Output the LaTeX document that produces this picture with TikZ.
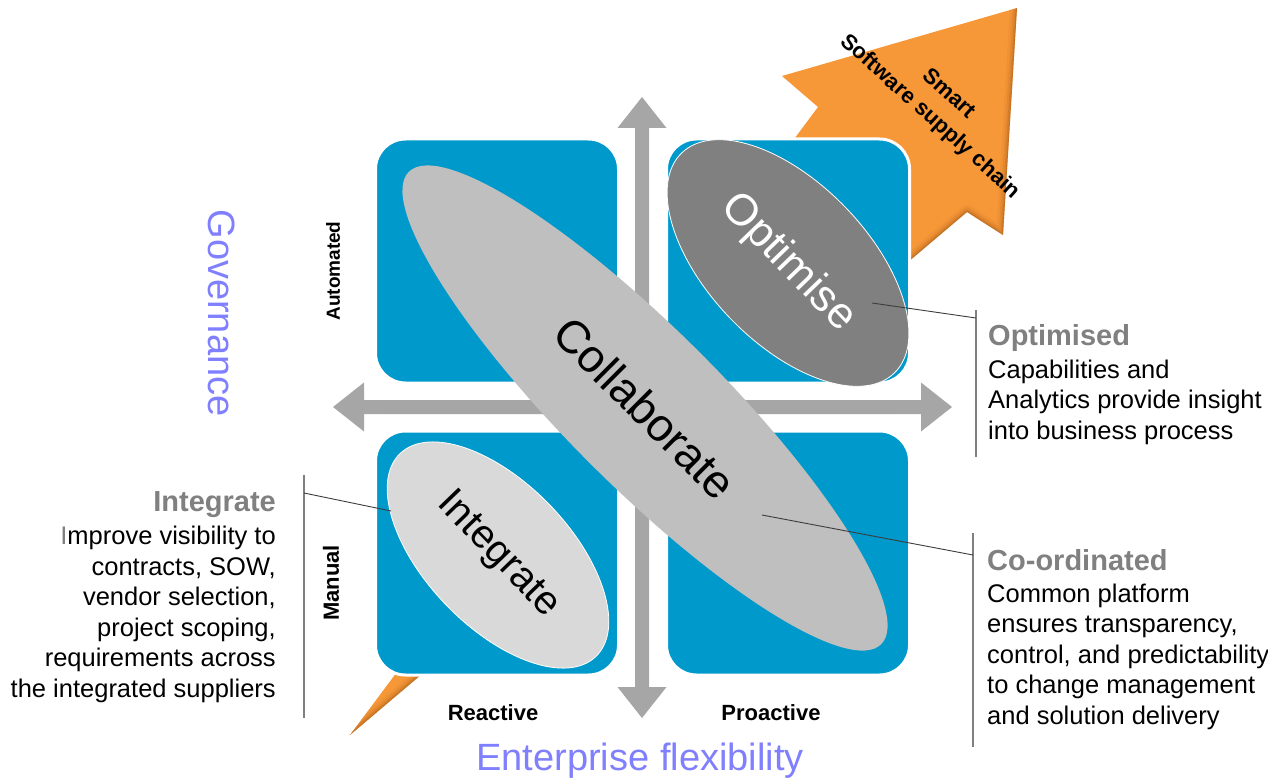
\documentclass[tikz,border=0pt]{standalone}
\usepackage{fontspec}
\setmainfont{Liberation Sans}
\usetikzlibrary{shapes.geometric}

\definecolor{quadblue}{RGB}{0,153,204}
\definecolor{axisgray}{RGB}{166,166,166}
\definecolor{collabgray}{RGB}{191,191,191}
\definecolor{optgray}{RGB}{128,128,128}
\definecolor{intgray}{RGB}{217,217,217}
\definecolor{headgray}{RGB}{128,128,128}
\definecolor{axislabel}{RGB}{128,128,255}
\definecolor{arroworange}{RGB}{247,152,56}
\definecolor{arrowdark}{RGB}{150,80,20}
\definecolor{leadergray}{RGB}{60,60,60}

\newcommand\fsz[2]{\fontsize{#1}{#2}\selectfont}

\tikzset{
  quad/.style={fill=quadblue, draw=white, line width=3pt, rounded corners=30pt,
    minimum width=243pt, minimum height=244pt, inner sep=0pt},
  blob/.style={ellipse, inner sep=0pt},
  axislab/.style={text=axislabel, font=\fsz{38}{38}, inner sep=0pt},
  dimlab/.style={font=\bfseries\fsz{22}{22}, inner sep=0pt},
  headtxt/.style={text=headgray, font=\bfseries\fsz{29}{29}, inner sep=0pt},
  bodytxt/.style={font=\fsz{25.5}{30.5}, inner sep=0pt},
  leader/.style={draw=leadergray, line width=0.9pt},
  bar/.style={draw=headgray, line width=1.4pt},
  arrowtxt/.style={font=\bfseries\fsz{22}{24}, inner sep=0pt, rotate=-42}
}

\begin{document}
\begin{tikzpicture}[x=1pt, y=-1pt]
\useasboundingbox (0,0) rectangle (1268,778);

% orange arrow towards the top right, its shaft tapering to the lower left
\coordinate (oTail) at (350,735);
\coordinate (oNotchL) at (818,107);
\coordinate (oWingL) at (782,76);
\coordinate (oTip) at (1017,8);
\coordinate (oWingR) at (1003,235);
\coordinate (oNotchR) at (967,212);
\fill[arroworange] (oTail) -- (oNotchL) -- (oWingL) -- (oTip) -- (oWingR) -- (oNotchR) -- cycle;
\begin{scope}
  \clip (oTail) -- (oNotchL) -- (oWingL) -- (oTip) -- (oWingR) -- (oNotchR) -- cycle;
  \foreach \w/\o in {14/0.08, 9/0.12, 5/0.18, 2/0.25}
    \draw[arrowdark, line width=\w pt, opacity=\o, line join=round]
      (oTip) -- (oWingR) -- (oNotchR) -- (oTail);
\end{scope}

% white ground under the four quadrants
\fill[white] (390,155) rectangle (895,657);

% quadrants
\node[quad] (qTL) at (497,261) {};
\node[quad] (qTR) at (788,261) {};
\node[quad] (qBL) at (497,553) {};
\node[quad] (qBR) at (788,553) {};

% axes with arrow heads at both ends
\fill[axisgray] (642,97) -- (666.5,128) -- (649,128) -- (649,687) -- (666.5,687)
  -- (642,718) -- (617.5,687) -- (635,687) -- (635,128) -- (617.5,128) -- cycle;
\fill[axisgray] (333,407) -- (364,382.5) -- (364,400) -- (921,400) -- (921,382.5)
  -- (952,407) -- (921,431.5) -- (921,414) -- (364,414) -- (364,431.5) -- cycle;

% maturity ellipses
\node[blob, fill=collabgray, minimum width=668pt, minimum height=156pt, rotate=-45,
  font=\fsz{46}{46}] (collab) at (645,408) {Collaborate};
\node[blob, fill=optgray, draw=white, line width=0.8pt, minimum width=306pt,
  minimum height=160pt, rotate=-46, text=white, font=\fsz{44}{44}] (optim) at (788,263) {Optimise};
\node[blob, fill=intgray, draw=white, line width=0.8pt, minimum width=282pt,
  minimum height=144pt, rotate=-46, font=\fsz{40}{40}] (integ) at (498,555) {Integrate};

% arrow caption
\node[arrowtxt] (smart) at (950,93) {Smart};
\node[arrowtxt] (chain) at (930,117) {Software supply chain};

% axis titles
\node[axislab, rotate=-90] (gov) at (222,313) {Governance};
\node[axislab, anchor=base] (flex) at (640,770) {Enterprise flexibility};

% axis end labels
\node[dimlab, rotate=90, font=\bfseries\fsz{19}{19}] (auto) at (333,271) {Automated};
\node[dimlab, rotate=90] (manual) at (331,583) {Manual};
\node[dimlab] (react) at (493,713) {Reactive};
\node[dimlab] (proact) at (771,713) {Proactive};

% Optimised note (body nodes are placed by the baseline of their last line)
\coordinate (optPt) at (872,303);
\coordinate (optBarTop) at (976,310);
\coordinate (optBarJoin) at (976,318);
\coordinate (optBarBot) at (976,457);
\draw[bar] (optBarTop) -- (optBarBot);
\draw[leader] (optPt) -- (optBarJoin);
\node[headtxt, anchor=base west] (optHead) at (988,345) {Optimised};
\node[bodytxt, anchor=base west, align=left] (optBody) at (988,439)
  {Capabilities and\\Analytics provide insight\\into business process};

% Co-ordinated note
\coordinate (coPt) at (762,515);
\coordinate (coBarTop) at (973,533);
\coordinate (coBarJoin) at (973,555);
\coordinate (coBarBot) at (973,747);
\draw[bar] (coBarTop) -- (coBarBot);
\draw[leader] (coPt) -- (coBarJoin);
\node[headtxt, anchor=base west] (coHead) at (987,570) {Co-ordinated};
\node[bodytxt, anchor=base west, align=left] (coBody) at (987,724)
  {Common platform\\ensures transparency,\\control, and predictability\\to change management\\and solution delivery};

% Integrate note
\coordinate (intPt) at (391,511);
\coordinate (intBarTop) at (304,475);
\coordinate (intBarJoin) at (304,493);
\coordinate (intBarBot) at (304,718);
\draw[bar] (intBarTop) -- (intBarBot);
\draw[leader] (intPt) -- (intBarJoin);
\node[headtxt, anchor=base east] (intHead) at (276,511) {Integrate};
\node[bodytxt, anchor=base east, align=right] (intBody) at (276,697)
  {\textcolor{headgray}{I}mprove visibility to\\contracts, SOW,\\vendor selection,\\project scoping,\\requirements across\\the integrated suppliers};

\end{tikzpicture}
\end{document}
